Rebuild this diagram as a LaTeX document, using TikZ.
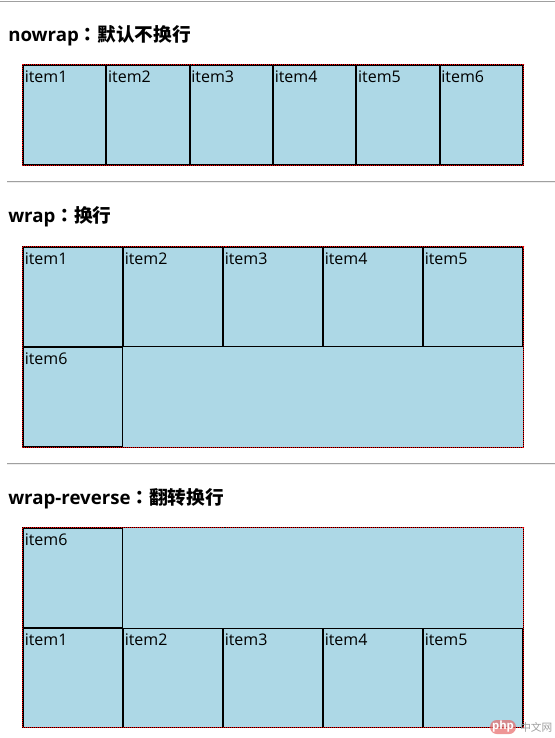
\documentclass[tikz,border=0pt]{standalone}
\usepackage{fontspec}
\setmainfont{Open Sans}
\newfontfamily\cjk{Noto Sans CJK SC}
\newfontfamily\cjktc{Noto Sans CJK TC}
\usetikzlibrary{calc}
\definecolor{lb}{HTML}{ADD8E6}
\definecolor{hr}{HTML}{A0A0A0}
\definecolor{hrl}{HTML}{EEEEEE}
\definecolor{php}{HTML}{E86A6A}
\tikzset{
  nitem/.style={draw=black, line width=0.75pt, fill=lb, inner sep=0pt, minimum width=61.75pt, minimum height=74.25pt},
  witem/.style={draw=black, line width=0.75pt, fill=lb, inner sep=0pt, minimum width=74.25pt, minimum height=74.25pt},
  lbl/.style={anchor=base west, inner sep=0pt, font=\fontsize{12}{14}\selectfont, text=black},
  head/.style={anchor=base west, inner sep=0pt, font=\fontsize{14}{16}\selectfont\bfseries},
  cbg/.style={fill=lb, draw=none},
  cborder/.style={draw=black, line width=0.75pt},
  cdots/.style={draw=red, line width=0.75pt, dash pattern=on 0.75pt off 0.75pt},
  rule/.style={draw=hr, line width=0.75pt}
}
\newcommand{\itemlabel}[2]{\node[lbl] at ($(#1.north west)+(1.5,17.5)$) {#2};}
\newcommand{\fwcolon}{{\cjktc\bfseries ：}}
\begin{document}
\begin{tikzpicture}[x=0.75pt,y=-0.75pt]
\useasboundingbox[fill=white] (0,0) rectangle (555,738);
% rules
\draw[rule] (0,1.5) -- (555,1.5);
\draw[rule] (7,181.5) -- (555,181.5);
\draw[draw=hrl, line width=0.75pt] (7,182.5) -- (555,182.5);
\draw[rule] (7,463.5) -- (555,463.5);
\draw[draw=hrl, line width=0.75pt] (7,464.5) -- (555,464.5);
% headings
\node[head] (h1) at (8,42) {nowrap\fwcolon{\cjk\bfseries 默认不换行}};
\node[head] (h2) at (8,222) {wrap\fwcolon{\cjk\bfseries 换行}};
\node[head] (h3) at (8,504) {wrap-reverse\fwcolon{\cjk\bfseries 翻转换行}};
% container 1
\fill[cbg] (22.5,64.5) rectangle (523.5,165.5);
\node[nitem] (a1) at (64.67,115) {};
\node[nitem] (a2) at (148,115) {};
\node[nitem] (a3) at (231.33,115) {};
\node[nitem] (a4) at (314.67,115) {};
\node[nitem] (a5) at (398,115) {};
\node[nitem] (a6) at (481.33,115) {};
\itemlabel{a1}{item1}\itemlabel{a2}{item2}\itemlabel{a3}{item3}
\itemlabel{a4}{item4}\itemlabel{a5}{item5}\itemlabel{a6}{item6}
\draw[cborder] (22.5,64.5) rectangle (523.5,165.5);
\draw[cdots] (22.5,64.5) rectangle (523.5,165.5);
% container 2
\fill[cbg] (22.5,246.5) rectangle (523.5,447.5);
\node[witem] (b1) at (73,297) {};
\node[witem] (b2) at (173,297) {};
\node[witem] (b3) at (273,297) {};
\node[witem] (b4) at (373,297) {};
\node[witem] (b5) at (473,297) {};
\node[witem] (b6) at (73,397) {};
\itemlabel{b1}{item1}\itemlabel{b2}{item2}\itemlabel{b3}{item3}
\itemlabel{b4}{item4}\itemlabel{b5}{item5}\itemlabel{b6}{item6}
\draw[cborder] (22.5,246.5) rectangle (523.5,447.5);
\draw[cdots] (22.5,246.5) rectangle (523.5,447.5);
% container 3
\fill[cbg] (22.5,527.5) rectangle (523.5,727.5);
\node[witem] (c6) at (73,578) {};
\node[witem] (c1) at (73,678) {};
\node[witem] (c2) at (173,678) {};
\node[witem] (c3) at (273,678) {};
\node[witem] (c4) at (373,678) {};
\node[witem] (c5) at (473,678) {};
\itemlabel{c6}{item6}\itemlabel{c1}{item1}\itemlabel{c2}{item2}
\itemlabel{c3}{item3}\itemlabel{c4}{item4}\itemlabel{c5}{item5}
\draw[cborder] (22.5,527.5) rectangle (523.5,727.5);
\draw[cdots] (22.5,527.5) rectangle (523.5,727.5);
% watermark
\node[fill=php, fill opacity=0.7, rounded corners=5pt, inner xsep=1.5pt, inner ysep=1pt, font=\fontsize{8.5}{9}\selectfont\bfseries, text=white, text opacity=1] (wm) at (503,727) {php};
\node[anchor=west, inner sep=0pt, font=\cjk\fontsize{8}{9}\selectfont, text=hr] (wm2) at (520,727) {中文网};
\end{tikzpicture}
\end{document}
